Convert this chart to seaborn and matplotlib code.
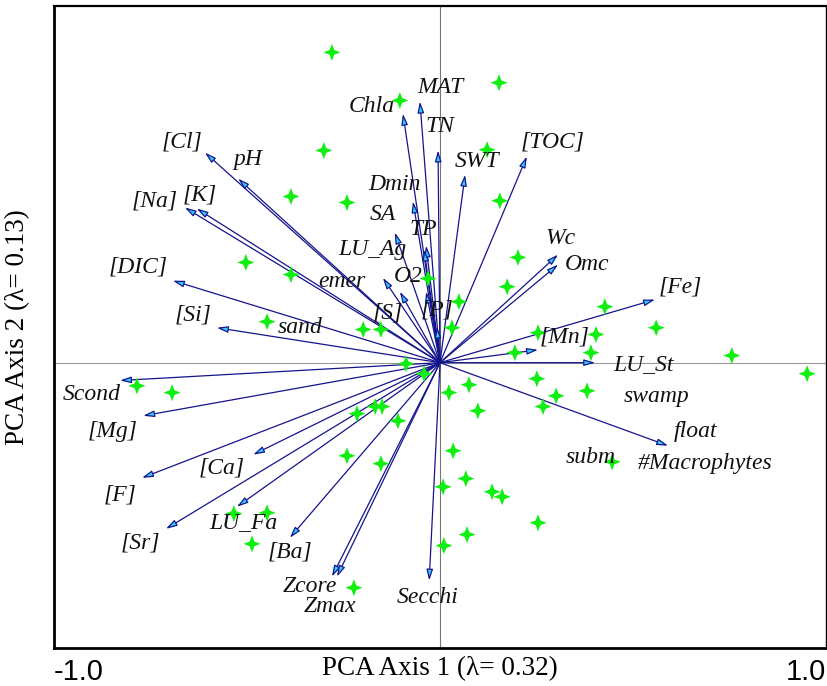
import numpy as np
import pandas as pd
import seaborn as sns
import matplotlib.pyplot as plt
from matplotlib.path import Path

# environmental variable arrows (tip coordinates on PCA axes 1 and 2)
var_names = ['[Cl]', 'pH', '[Na]', '[K]', '[DIC]', '[Si]', 'Chla', 'MAT', 'TN', 'SWT',
             '[TOC]', 'Dmin', 'SA', 'TP', 'LU_Ag', 'emer', 'O2', '[S]', '[P]', 'Wc',
             'Omc', '[Fe]', '[Mn]', 'LU_St', 'float', 'Scond', '[Mg]', '[Ca]', '[F]', 'LU_Fa',
             '[Sr]', '[Ba]', 'Zcore', 'Zmax', 'Secchi']
var_x = [-0.609, -0.523, -0.661, -0.630, -0.692, -0.578, -0.096, -0.052, -0.005, 0.065,
         0.225, -0.070, -0.117, -0.036, -0.041, -0.148, -0.036, -0.104, -0.008, 0.306,
         0.306, 0.557, 0.254, 0.402, 0.591, -0.829, -0.769, -0.484, -0.772, -0.526,
         -0.710, -0.389, -0.280, -0.267, -0.028]
var_y = [0.589, 0.516, 0.435, 0.432, 0.230, 0.098, 0.698, 0.732, 0.595, 0.527,
         0.578, 0.452, 0.365, 0.328, 0.317, 0.238, 0.199, 0.199, 0.101, 0.303,
         0.275, 0.177, 0.036, 0.0, -0.233, -0.050, -0.149, -0.258, -0.323, -0.404,
         -0.466, -0.491, -0.600, -0.600, -0.611]

# where each arrow's name is written
lab_x = [-0.668, -0.497, -0.738, -0.622, -0.782, -0.640, -0.176, 0.0, 0.0, 0.096,
         0.293, -0.117, -0.148, -0.044, -0.174, -0.254, -0.083, -0.135, -0.008, 0.311,
         0.381, 0.622, 0.324, 0.526, 0.661, -0.902, -0.847, -0.565, -0.829, -0.510,
         -0.777, -0.389, -0.337, -0.285, -0.031]
lab_y = [0.620, 0.569, 0.452, 0.471, 0.269, 0.135, 0.718, 0.771, 0.662, 0.564,
         0.620, 0.499, 0.415, 0.373, 0.317, 0.227, 0.241, 0.140, 0.149, 0.348,
         0.275, 0.213, 0.073, -0.006, -0.194, -0.090, -0.194, -0.295, -0.370, -0.449,
         -0.505, -0.530, -0.628, -0.684, -0.659]

# names shown without a visible arrow
extra_names = ['sand', 'swamp', 'subm', '#Macrophytes']
extra_x = [-0.363, 0.560, 0.391, 0.687]
extra_y = [0.098, -0.095, -0.266, -0.283]

# sample scores
pc1 = [-0.280, 0.153, -0.104, -0.301, 0.122, -0.386, -0.241, 0.155, -0.503, -0.386,
       0.202, 0.174, -0.031, 0.049, 0.427, 0.560, -0.448, -0.199, -0.153, 0.031,
       0.254, 0.404, 0.194, 0.391, 0.756, 0.951, -0.088, -0.041, -0.785, -0.694,
       0.023, 0.075, 0.251, 0.381, 0.301, 0.267, 0.098, -0.215, -0.168, -0.150,
       -0.109, 0.034, -0.241, -0.153, 0.067, 0.008, 0.135, 0.161, 0.254, 0.070,
       0.010, -0.534, -0.448, -0.487, -0.223, 0.446]
pc2 = [0.870, 0.785, 0.735, 0.595, 0.597, 0.466, 0.449, 0.454, 0.281, 0.247,
       0.295, 0.213, 0.236, 0.171, 0.157, 0.098, 0.115, 0.093, 0.093, 0.098,
       0.084, 0.079, 0.028, 0.028, 0.020, -0.031, -0.003, -0.031, -0.065, -0.084,
       -0.084, -0.062, -0.045, -0.079, -0.093, -0.123, -0.135, -0.143, -0.123, -0.123,
       -0.163, -0.247, -0.261, -0.283, -0.325, -0.348, -0.362, -0.376, -0.449, -0.482,
       -0.513, -0.423, -0.421, -0.508, -0.631, -0.278]

samples = pd.DataFrame({'PC1': pc1, 'PC2': pc2})

sns.set_theme(style='white')
plt.rcParams['font.family'] = ['Liberation Serif', 'DejaVu Serif']

fig = plt.figure(figsize=(8.28, 6.86), dpi=100)
ax = fig.add_axes([54 / 828, 38 / 686, 772 / 828, 642 / 686])

ax.axhline(0, color='#999999', lw=0.8, zorder=1)
ax.axvline(0, color='#777777', lw=0.8, zorder=1)

for name, x, y, lx, ly in zip(var_names, var_x, var_y, lab_x, lab_y):
    ax.annotate('', xy=(x, y), xytext=(0, 0),
                arrowprops=dict(arrowstyle='-|>,head_length=0.55,head_width=0.16',
                                fc='#33ccff', ec='#14148c', lw=0.9,
                                shrinkA=0, shrinkB=0), zorder=2)
    ax.text(lx, ly, name, ha='center', va='center', style='italic',
            fontsize=17, color='#111111', zorder=4)

for name, lx, ly in zip(extra_names, extra_x, extra_y):
    ax.text(lx, ly, name, ha='center', va='center', style='italic',
            fontsize=17, color='#111111', zorder=4)

# four pointed star marker
star = Path([(0, 1), (0.28, 0.28), (1, 0), (0.28, -0.28), (0, -1),
             (-0.28, -0.28), (-1, 0), (-0.28, 0.28), (0, 1)])
sns.scatterplot(data=samples, x='PC1', y='PC2', marker=star, s=150,
                color='#11ee11', edgecolor='none', linewidth=0, ax=ax, zorder=3)

ax.set_xlim(-1, 1)
ax.set_ylim(-0.8, 1.0)
ax.set_xticks([-1, -0.5, 0, 0.5, 1])
ax.set_xticklabels(['-1.0', '', '', '', '1.0'], family=['Liberation Sans'], fontsize=21)
tl = ax.get_xticklabels()
tl[0].set_horizontalalignment('left')
tl[-1].set_horizontalalignment('right')
ax.set_yticks(np.round(np.arange(-0.8, 0.81, 0.2), 1))
ax.set_yticklabels([])
ax.tick_params(axis='x', direction='inout', length=8, width=1.5, pad=3, colors='black')
ax.tick_params(axis='y', direction='out', length=6, width=1.5, colors='black')

for side, w in [('left', 2), ('bottom', 2), ('top', 1.6), ('right', 1.0)]:
    ax.spines[side].set_color('black')
    ax.spines[side].set_linewidth(w)

ax.set_xlabel('PCA Axis 1 (λ= 0.32)', fontsize=19.5, color='black')
ax.xaxis.set_label_coords(0.5, -0.013)
ax.set_ylabel('PCA Axis 2 (λ= 0.13)', fontsize=19.5, color='black', labelpad=8)

fig.savefig('out.png', dpi=100)
